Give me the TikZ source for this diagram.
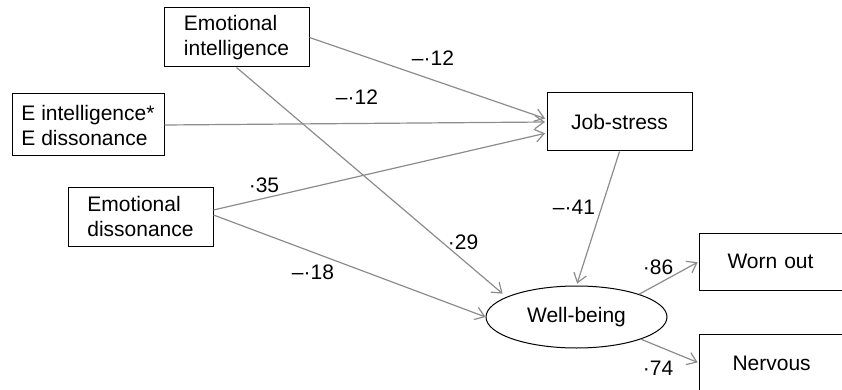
\documentclass[tikz,border=0pt]{standalone}
\usepackage{fontspec}
\setmainfont{Liberation Sans}
\usetikzlibrary{shapes.geometric,arrows.meta}
\definecolor{arrowgray}{HTML}{8C8C8C}
\begin{document}
\begin{tikzpicture}[x=1pt,y=-1pt,
  every node/.style={font=\fontsize{21}{25}\selectfont},
  box/.style={draw=black, line width=1pt, rectangle, inner sep=0pt, align=left},
  conn/.style={draw=arrowgray, line width=1.2pt, -{Straight Barb[length=9pt,width=13pt]}},
  lbl/.style={inner sep=0pt}]
\useasboundingbox (0,0) rectangle (842,390);
\clip (0,0) rectangle (842,390);
% boxes
\node[box, minimum width=145pt, minimum height=59pt] (ei) at (236.5,37.5) {Emotional\\intelligence};
\node[box, minimum width=152pt, minimum height=62pt] (ix) at (88,125) {E intelligence*\\E dissonance};
\node[box, minimum width=145pt, minimum height=59pt] (ed) at (140.5,216.5) {Emotional\\dissonance};
\node[box, minimum width=145pt, minimum height=58pt] (js) at (619.5,122) {Job-stress};
\node[draw=black, ellipse, line width=1pt, minimum width=181pt, minimum height=62pt, inner sep=0pt] (wb) at (576.5,317) {Well-being};
\node[box, anchor=west, minimum height=57pt, text width=104pt, inner xsep=28pt] (wo) at (699,261.5) {Worn out};
\node[box, anchor=west, minimum height=58pt, text width=100pt, inner xsep=33pt] (nv) at (699,363) {Nervous};
% connectors
\draw[conn, shorten >=1.5pt] (ei.east) -- ([yshift=3pt]js.west);
\draw[conn, shorten >=1.5pt] (ix.east) -- (js.west);
\draw[conn, shorten >=1.5pt] ([yshift=6.5pt]ed.east) -- ([yshift=-11pt]js.west);
\draw[conn] ([yshift=1.5pt]ed.east) -- (wb.west);
\draw[conn, shorten >=5pt] (ei.south) -- (wb.164);
\draw[conn, shorten >=2pt] (js.south) -- (wb.north);
\draw[conn, shorten >=1.5pt] (wb.20) -- (wo.west);
\draw[conn, shorten >=1.5pt] (wb.-19) -- (nv.west);
% labels
\node[lbl] (l1) at (433,58) {–·12};
\node[lbl] (l2) at (357,97) {–·12};
\node[lbl] (l3) at (264,185) {·35};
\node[lbl] (l4) at (463,242) {·29};
\node[lbl] (l5) at (313,272) {–·18};
\node[lbl] (l6) at (574,207) {–·41};
\node[lbl] (l7) at (658,267) {·86};
\node[lbl] (l8) at (658,368) {·74};
\end{tikzpicture}
\end{document}
